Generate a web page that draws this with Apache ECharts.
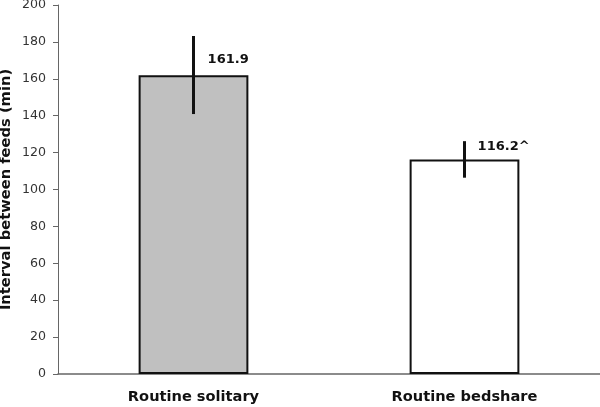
<!DOCTYPE html>
<html><head><meta charset="utf-8">
<script src="https://cdn.jsdelivr.net/npm/echarts@6/dist/echarts.min.js"></script>
<style>html,body{margin:0;padding:0;background:#fff}#c{width:600px;height:407px}</style>
</head><body><div id="c"></div>
<script>
var categories = ['Routine solitary', 'Routine bedshare'];
var values = [161.9, 116.2];
var errLow = [140.9, 106.4];
var errHigh = [183.2, 126.2];
var valueLabels = ['161.9', '116.2^'];
var barColors = ['#c0c0c0', '#ffffff'];
var yTicks = {min: 0, max: 200, interval: 20};

var chart = echarts.init(document.getElementById('c'));
var font = 'DejaVu Sans, Verdana, sans-serif';
chart.setOption({
  animation: false,
  grid: {left: 58, right: 0, top: 5, bottom: 33, containLabel: false, outerBoundsMode: 'none'},
  xAxis: {
    type: 'category', data: categories,
    axisLine: {lineStyle: {color: '#666', width: 1.5}},
    axisTick: {show: false},
    axisLabel: {fontFamily: font, fontWeight: 'bold', fontSize: 14.6, color: '#111', margin: 16}
  },
  yAxis: {
    type: 'value', min: yTicks.min, max: yTicks.max, interval: yTicks.interval,
    name: 'Interval between feeds (min)', nameLocation: 'middle', nameGap: 44, nameMoveOverlap: false,
    nameTextStyle: {fontFamily: font, fontWeight: 'bold', fontSize: 14.7, color: '#111'},
    axisLine: {show: true, lineStyle: {color: '#666', width: 1}},
    axisTick: {show: true, length: 5, lineStyle: {color: '#666'}},
    splitLine: {show: false},
    axisLabel: {fontFamily: font, fontSize: 12.6, color: '#333', margin: 12}
  },
  series: [{
    type: 'bar', barWidth: '40.5%',
    data: values.map(function (v, i) {
      return {
        value: v,
        itemStyle: {color: barColors[i], borderColor: '#111', borderWidth: 2},
        label: {show: true, formatter: valueLabels[i], position: [i === 0 ? 69 : 68, i === 0 ? -16 : -13],
          align: 'left', verticalAlign: 'middle', fontFamily: font, fontWeight: 'bold', fontSize: 13, color: '#111'}
      };
    })
  }, {
    type: 'custom', z: 10,
    data: values.map(function (v, i) { return [i, errLow[i], errHigh[i]]; }),
    renderItem: function (params, api) {
      var lo = api.coord([api.value(0), api.value(1)]);
      var hi = api.coord([api.value(0), api.value(2)]);
      return {type: 'line', shape: {x1: lo[0], y1: lo[1], x2: hi[0], y2: hi[1]},
        style: {stroke: '#111', lineWidth: 3}};
    }
  }]
});
</script></body></html>
